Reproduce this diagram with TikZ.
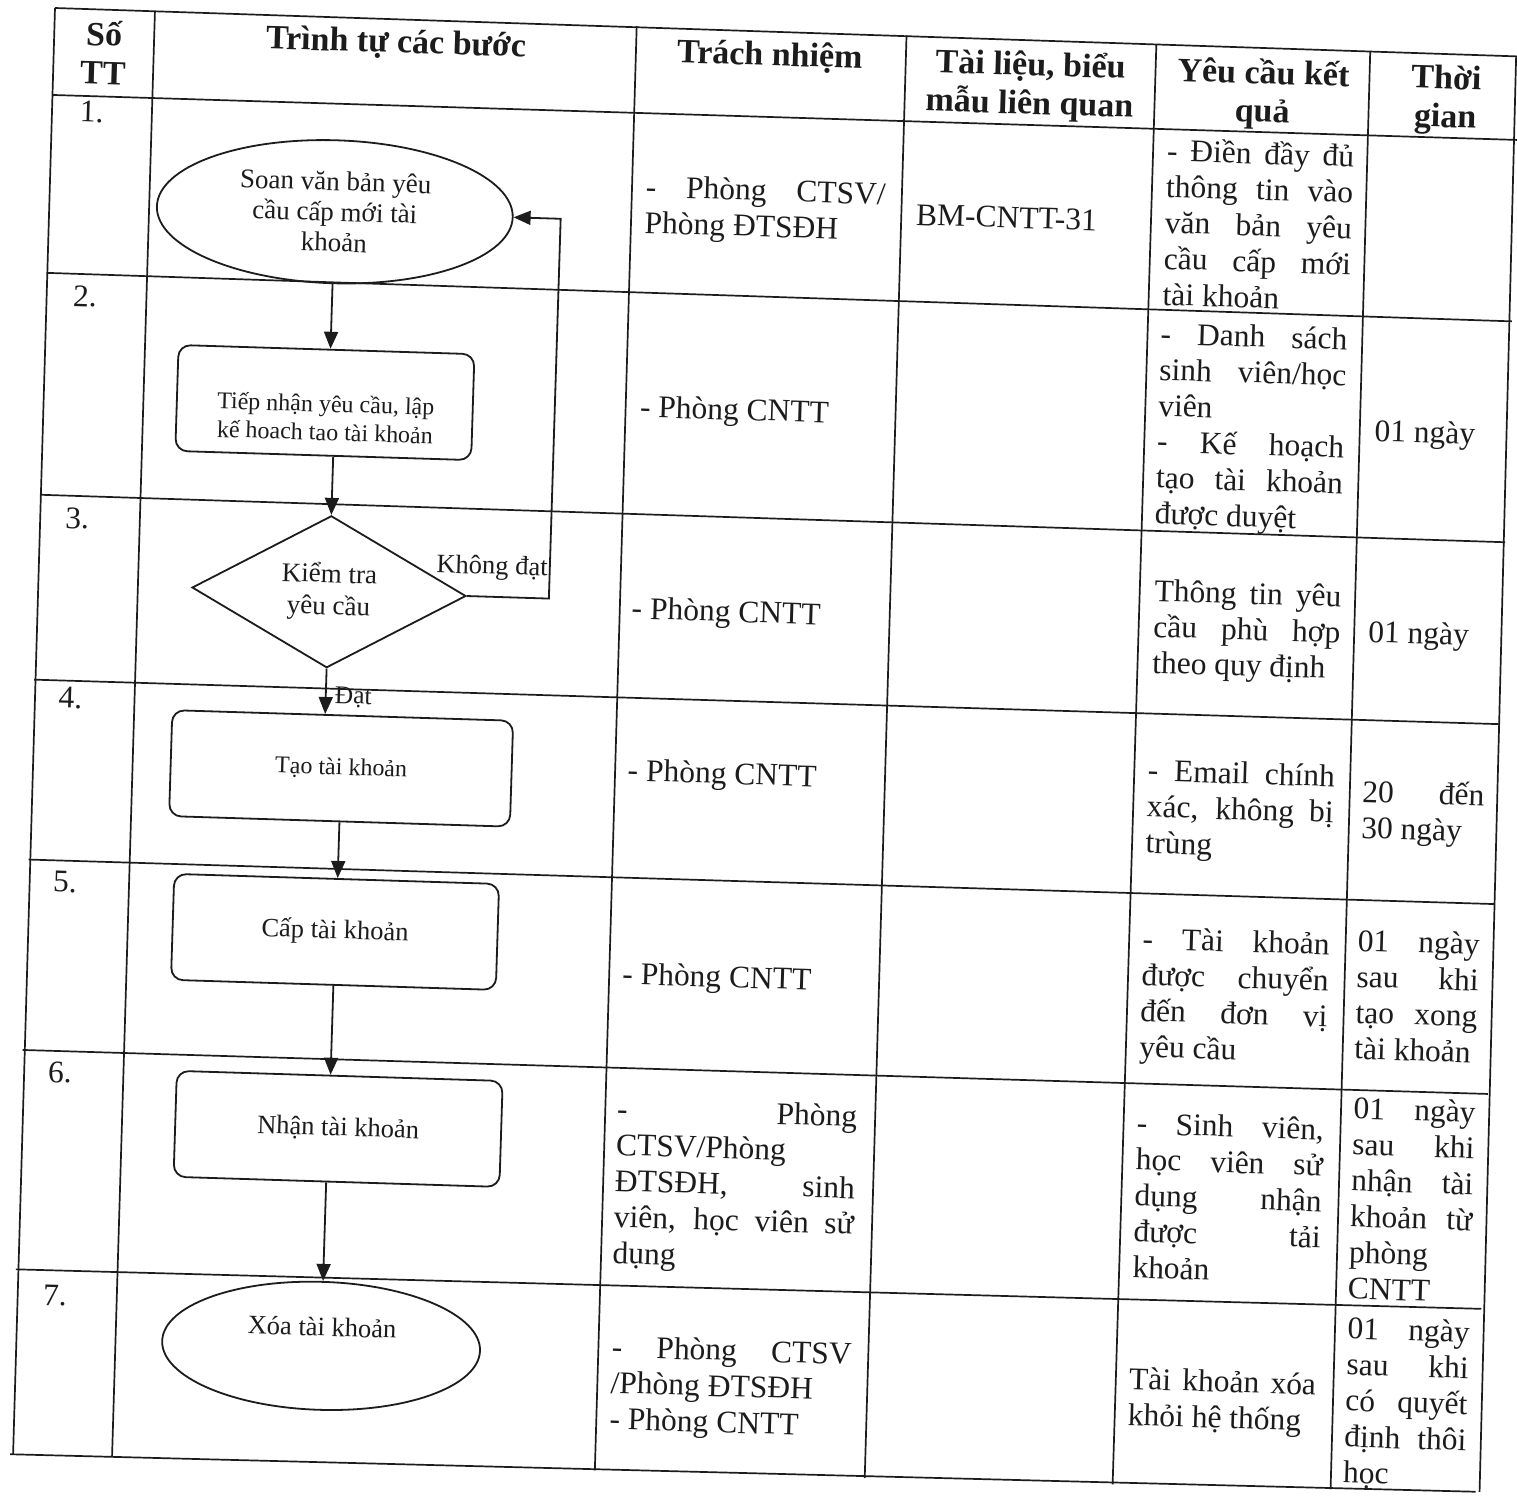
\documentclass[tikz,border=0pt]{standalone}
\usepackage{fontspec}
\setmainfont{Liberation Serif}
\usetikzlibrary{shapes.geometric,arrows.meta}
\definecolor{ink}{RGB}{28,28,28}
\newcommand\JC[1]{\makebox[240pt][s]{#1}}
\newcommand\JE[1]{\makebox[187pt][s]{#1}}
\newcommand\JG[1]{\makebox[122pt][s]{#1}}
\newcommand\ST{\rule{0pt}{31.5pt}}
\newcommand\SH{\rule{0pt}{34pt}}
\newcommand\ff[2]{\fontsize{#1}{#2}\selectfont}
\tikzset{
  grid/.style={draw=ink, line width=1.7pt},
  cell/.style={anchor=north west, inner sep=0pt, align=left, text=ink, font=\ff{31.5}{36}},
  num/.style={anchor=base west, inner sep=0pt, text=ink, font=\ff{31.5}{36}},
  head/.style={anchor=north, inner sep=0pt, align=center, text=ink, font=\bfseries\ff{34}{38.5}},
  rbox/.style={draw=ink, line width=1.8pt, rounded corners=12pt, inner sep=0pt, minimum height=106pt, align=center, text=ink},
  ell/.style={draw=ink, line width=1.8pt, ellipse, inner sep=0pt, align=center, text=ink},
  dia/.style={draw=ink, line width=1.8pt, diamond, aspect=1.8, inner sep=0pt, align=center, text=ink},
  ftxt/.style={inner sep=0pt, align=center, text=ink},
  lab/.style={inner sep=0pt, text=ink, font=\ff{26.5}{30}},
  arr/.style={draw=ink, line width=1.8pt, -{Triangle[length=17pt,width=14pt]}}
}
\begin{document}
\begin{tikzpicture}[x=1pt,y=-1pt]
\useasboundingbox[fill=white] (0,0) rectangle (1517,1496);
\begin{scope}[shift={(55,8)}, rotate=-1.78, every node/.append style={transform shape}]
% ---- table grid ----
\draw[grid] (0,0) -- (1466,3);
\draw[grid] (0,87) -- (1466,86.5);
\draw[grid] (0,265) -- (1466,268);
\draw[grid] (0,487) -- (1466,489);
\draw[grid] (0,672) -- (1466,671);
\draw[grid] (0,852) -- (1466,851);
\draw[grid] (0,1042.5) -- (1466,1041);
\draw[grid] (0,1262) -- (1466,1256);
\draw[grid] (0,1447) -- (1466,1439);
\draw[grid] (0,0) -- (3,1447);
\draw[grid] (100,0) -- (102,1446);
\draw[grid] (582,0) -- (585,1445);
\draw[grid] (852,1) -- (855,1444);
\draw[grid] (1102,2) -- (1103,1443);
\draw[grid] (1316,2.5) -- (1321,1441);
\draw[grid] (1462,3) -- (1470,1439);
% ---- headers ----
\node[head] (h1) at (50,2) {\SH Số\\TT};
\node[head] (h2) at (342,0) {\SH Trình tự các bước};
\node[head] (h3) at (716,1) {\SH Trách nhiệm};
\node[head] (h4) at (977,3) {\SH Tài liệu, biểu\\mẫu liên quan};
\node[head] (h5) at (1210,4) {\SH Yêu cầu kết\\quả};
\node[head] (h6) at (1393,3.5) {\SH Thời\\gian};
% ---- row numbers ----
\node[num] (n1) at (28,113) {1.};
\node[num] (n2) at (27,297.5) {2.};
\node[num] (n3) at (26,519.5) {3.};
\node[num] (n4) at (25,699.5) {4.};
\node[num] (n5) at (25,883.5) {5.};
\node[num] (n6) at (26,1074) {6.};
\node[num] (n7) at (28,1297) {7.};
% ---- Trach nhiem ----
\node[cell] (c31) at (596,139) {\ST\JC{- Phòng CTSV/}\\Phòng ĐTSĐH};
\node[cell] (c32) at (597,359) {\ST- Phòng CNTT};
\node[cell] (c33) at (595,561) {\ST- Phòng CNTT};
\node[cell] (c34) at (596,723) {\ST- Phòng CNTT};
\node[cell] (c35) at (597,926.5) {\ST- Phòng CNTT};
\node[cell] (c36) at (596,1061.5) {\ST\JC{- Phòng}\\\JC{CTSV/Phòng}\\\JC{ĐTSĐH, sinh}\\\JC{viên, học viên sử}\\dụng};
\node[cell] (c37) at (598,1299.5) {\ST\JC{- Phòng CTSV}\\/Phòng ĐTSĐH\\- Phòng CNTT};
% ---- Tai lieu ----
\node[cell] (c41) at (867,158.5) {\ST BM-CNTT-31};
% ---- Yeu cau ket qua ----
\node[cell] (c51) at (1116,86.8) {\ST\JE{- Điền đầy đủ}\\\JE{thông tin vào}\\\JE{văn bản yêu}\\\JE{cầu cấp mới}\\tài khoản};
\node[cell] (c52) at (1115,269.9) {\ST\JE{- Danh sách}\\\JE{sinh viên/học}\\viên\\\JE{- Kế hoạch}\\\JE{tạo tài khoản}\\được duyệt};
\node[cell] (c53) at (1117,527) {\ST\JE{Thông tin yêu}\\\JE{cầu phù hợp}\\theo quy định};
\node[cell] (c54) at (1116,707) {\ST\JE{- Email chính}\\\JE{xác, không bị}\\trùng};
\node[cell] (c55) at (1116,875.2) {\ST\JE{- Tài khoản}\\\JE{được chuyển}\\\JE{đến đơn vị}\\yêu cầu};
\node[cell] (c56) at (1116,1060.2) {\ST\JE{- Sinh viên,}\\\JE{học viên sử}\\\JE{dụng nhận}\\\JE{được tải}\\khoản};
\node[cell] (c57) at (1116,1315.5) {\ST\JE{Tài khoản xóa}\\khỏi hệ thống};
% ---- Thoi gian ----
\node[cell] (c62) at (1332,360.2) {\ST 01 ngày};
\node[cell] (c63) at (1332,561.4) {\ST 01 ngày};
\node[cell] (c64) at (1331,721.5) {\ST\JG{20 đến}\\30 ngày};
\node[cell] (c65) at (1331,870.5) {\ST\JG{01 ngày}\\\JG{sau khi}\\\JG{tạo xong}\\tài khoản};
\node[cell] (c66) at (1332,1038.5) {\ST\JG{01 ngày}\\\JG{sau khi}\\\JG{nhận tài}\\\JG{khoản từ}\\phòng\\CNTT};
\node[cell] (c67) at (1333,1258.5) {\ST\JG{01 ngày}\\\JG{sau khi}\\\JG{có quyết}\\\JG{định thôi}\\học};
% ---- flowchart ----
\node[ell, minimum width=356pt, minimum height=143pt, font=\ff{27}{30.5}] (e1) at (286,195) {Soan văn bản yêu\\cầu cấp mới tài\\khoản};
\node[rbox, minimum width=296pt] (b2) at (282,386) {};
\node[ftxt, font=\ff{24}{28.5}] (b2t) at (283,401) {Tiếp nhận yêu cầu, lập\\kế hoach tao tài khoản};
\node[dia, minimum width=274pt, minimum height=152pt, font=\ff{27}{32}] (d3) at (292,575) {Kiểm tra\\yêu cầu};
\node[rbox, minimum width=341pt, font=\ff{24}{28}] (b4) at (309.6,751.2) {Tạo tài khoản};
\node[rbox, minimum width=325pt, font=\ff{26.5}{30}] (b5) at (308.6,914.8) {Cấp tài khoản};
\node[rbox, minimum width=326pt, font=\ff{26.5}{30}] (b6) at (317.8,1111.6) {Nhận tài khoản};
\node[ell, minimum width=318pt, minimum height=128pt] (e7) at (307.5,1329) {};
\node[ftxt, font=\ff{26.5}{30}] (e7t) at (308,1310) {Xóa tài khoản};
\coordinate (fbx) at (512,0);
\draw[arr] (e1.south) -- (e1.south |- b2.north);
\draw[arr] (d3.north |- b2.south) -- (d3.north);
\draw[arr] (d3.south) -- (d3.south |- b4.north);
\draw[arr] (b4.south) -- (b4.south |- b5.north);
\draw[arr] (b5.south) -- (b5.south |- b6.north);
\draw[arr] (e7.north |- b6.south) -- (e7.north);
\draw[arr] (d3.east) -- (d3.east -| fbx) -- (fbx |- e1.east) -- (e1.east);
\node[lab, anchor=east] (lk) at (510,546) {Không đạt};
\node[lab, anchor=west, font=\ff{25.5}{30}] (ld) at (301,680) {Đạt};
\end{scope}
\end{tikzpicture}
\end{document}
